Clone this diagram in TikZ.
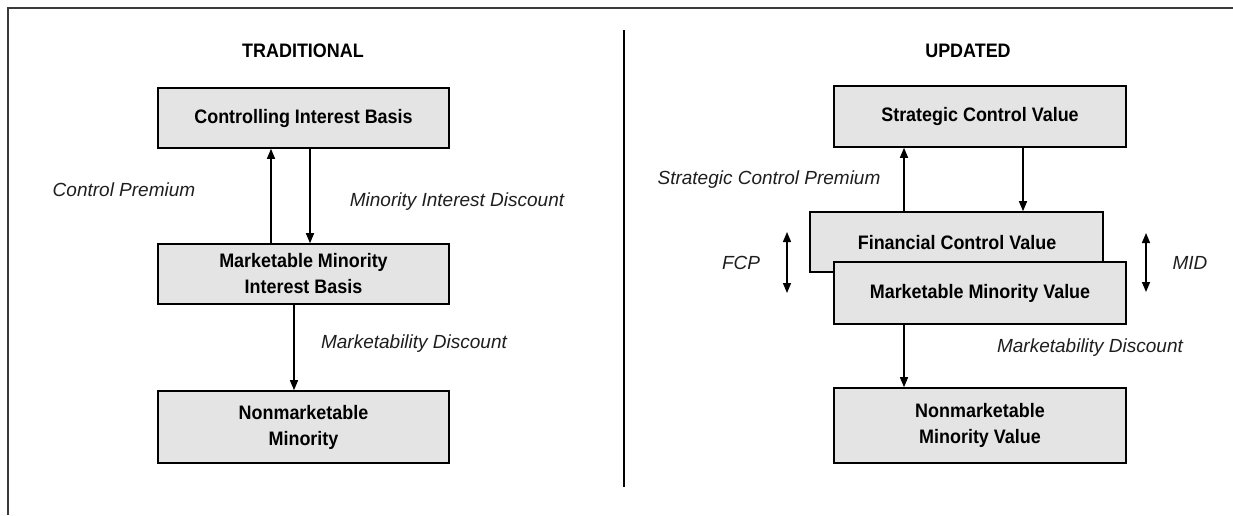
\documentclass[tikz,border=0pt]{standalone}
\usepackage{fontspec}
\setmainfont{Liberation Sans}[FakeStretch=0.92]
\newfontfamily\labelfont{Liberation Sans}[FakeStretch=1.0]
\usetikzlibrary{arrows.meta}
\definecolor{boxgray}{HTML}{E4E4E4}
\definecolor{framegray}{HTML}{3A3A3A}
\definecolor{labelgray}{HTML}{1E1E1E}

\begin{document}
\begin{tikzpicture}[x=1pt,y=-1pt,
  valuebox/.style={draw=black, line width=1.6pt, fill=boxgray, align=center,
    inner sep=0pt, font=\bfseries\fontsize{19.5}{26}\selectfont},
  heading/.style={font=\bfseries\fontsize{19.5}{22}\selectfont, inner sep=0pt},
  steplabel/.style={font=\labelfont\itshape\fontsize{19}{22}\selectfont,
    text=labelgray, inner sep=0pt},
  flow/.style={line width=1.4pt, -{Triangle[length=10pt,width=8pt]}},
  twoway/.style={line width=1.4pt, {Triangle[length=10pt,width=8pt]}-{Triangle[length=10pt,width=8pt]}}
]
\useasboundingbox (0,0) rectangle (1233,515);

% outer frame and panel divider
\draw[framegray, line width=2.4pt] (8,515) -- (8,8) -- (1233,8);
\draw[black, line width=1.2pt] (624,30) -- (624,487);

% ---- traditional model ----
\node[heading] (tradhead) at (303,51) {TRADITIONAL};
\node[valuebox, minimum width=291, minimum height=60] (cib) at (303.5,118) {Controlling Interest Basis};
\node[valuebox, minimum width=291, minimum height=60] (mmib) at (303.5,274) {Marketable Minority\\Interest Basis};
\node[valuebox, minimum width=291, minimum height=72] (nmm) at (303.5,427) {Nonmarketable\\Minority};

\draw[flow] ([xshift=-32.5pt]mmib.north) -- ([xshift=-32.5pt]cib.south);
\draw[flow] ([xshift=6.5pt]cib.south) -- ([xshift=6.5pt]mmib.north);
\draw[flow] ([xshift=-9.5pt]mmib.south) -- ([xshift=-9.5pt]nmm.north);

\node[steplabel] (cp) at (124,190) {Control Premium};
\node[steplabel] (mid1) at (457,202) {Minority Interest Discount};
\node[steplabel] (md1) at (414,344) {Marketability Discount};

% ---- updated model ----
\node[heading] (updhead) at (968,51) {UPDATED};
\node[valuebox, minimum width=292, minimum height=61] (scv) at (980,116.5) {Strategic Control Value};
\node[valuebox, minimum width=293, minimum height=60] (fcv) at (956.5,242) {};
\node[valuebox, minimum width=292, minimum height=62] (mmv) at (980,293) {Marketable Minority Value};
\node[font=\bfseries\fontsize{19.5}{22}\selectfont, inner sep=0pt] (fcvtext) at (957,243) {Financial Control Value};
\node[valuebox, minimum width=292, minimum height=75] (nmv) at (980,425.5) {Nonmarketable\\Minority Value};

\draw[flow] ([xshift=-52.5pt]fcv.north) -- ([xshift=-52.5pt]fcv.north |- scv.south);
\draw[flow] ([xshift=43pt]scv.south) -- ([xshift=43pt]scv.south |- fcv.north);
\draw[flow] ([xshift=-76pt]mmv.south) -- ([xshift=-76pt]nmv.north);

\coordinate (fcptop) at (787,232);
\coordinate (fcpbot) at (787,293);
\coordinate (midtop) at (1146,233);
\coordinate (midbot) at (1146,292);
\draw[twoway] (fcptop) -- (fcpbot);
\draw[twoway] (midtop) -- (midbot);

\node[steplabel] (scp) at (769,180) {Strategic Control Premium};
\node[steplabel] (fcp) at (741,263) {FCP};
\node[steplabel] (mid2) at (1190,263) {MID};
\node[steplabel] (md2) at (1090,348) {Marketability Discount};
\end{tikzpicture}
\end{document}
